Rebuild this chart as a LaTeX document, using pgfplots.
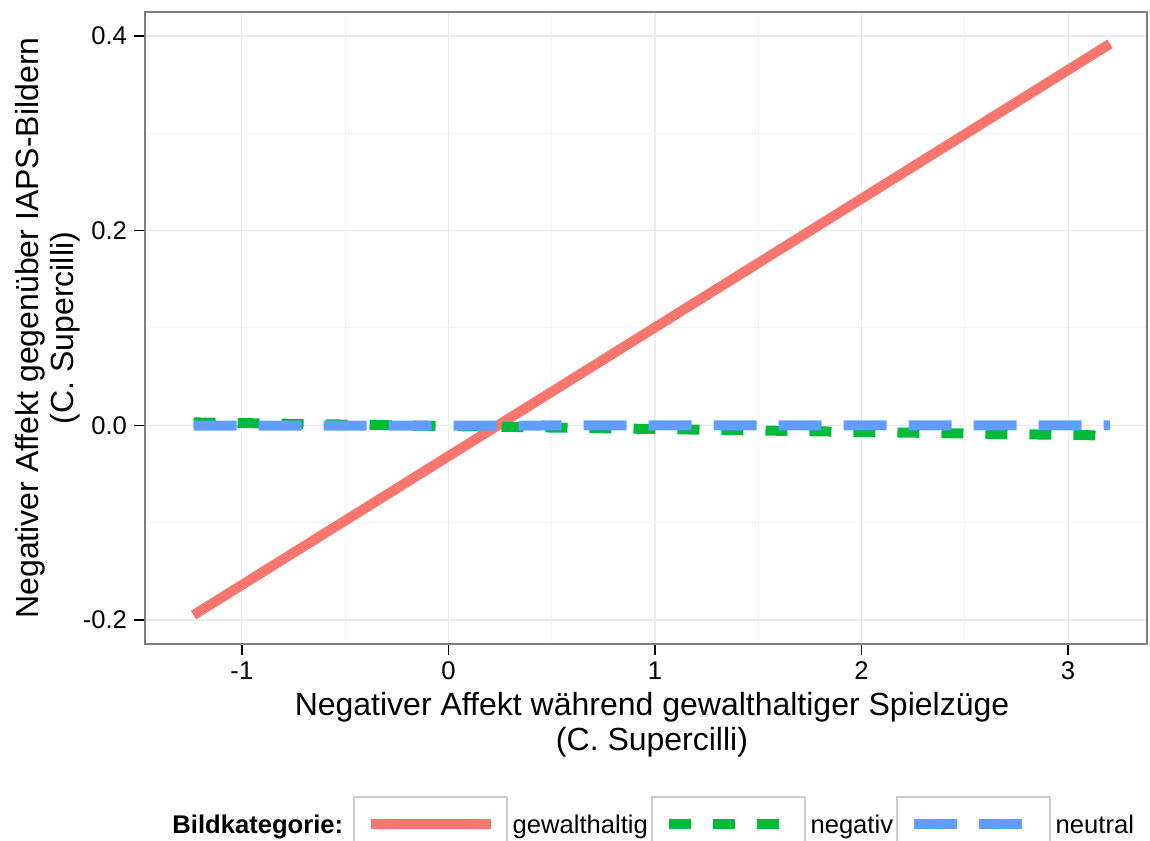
\documentclass[border=0pt]{standalone}
\usepackage{pgfplots}
\pgfplotsset{compat=1.18}
\usepackage{fontspec}
\setmainfont{Liberation Sans}
\definecolor{cRed}{HTML}{F8766D}
\definecolor{cGreen}{HTML}{00BA38}
\definecolor{cBlue}{HTML}{619CFF}
\definecolor{gridMaj}{HTML}{EBEBEB}
\definecolor{gridMin}{HTML}{F5F5F5}
\definecolor{border}{HTML}{7F7F7F}
\definecolor{keyBorder}{HTML}{CCCCCC}
\pgfplotsset{
  keybox/.style={
    legend image code/.code={
      \draw[draw=keyBorder, line width=0.8bp, solid, fill=white] (0bp,-14.5bp) rectangle (76.5bp,14.5bp);
      \draw[##1, line cap=butt] (8.5bp,1bp) -- (68.5bp,1bp);
    }
  }
}
\begin{document}
\begin{tikzpicture}
\begin{axis}[
  at={(0,0)}, anchor=south west,
  scale only axis, width=501bp, height=316bp,
  xmin=-1.469, xmax=3.382, ymin=-0.2247, ymax=0.4247,
  xtick={-1,0,1,2,3}, xticklabels={-1,0,1,2,3},
  ytick={-0.2,0,0.2,0.4}, yticklabels={-0.2,0.0,0.2,0.4},
  minor xtick={-1.5,-0.5,0.5,1.5,2.5},
  minor ytick={-0.1,0.1,0.3},
  grid=both,
  major grid style={gridMaj, line width=0.6bp},
  minor grid style={gridMin, line width=0.5bp},
  minor tick length=0pt,
  major tick length=5.5bp,
  tick align=outside,
  tick pos=left,
  major tick style={black, line width=0.8bp},
  axis line style={border, line width=0.6bp},
  ticklabel style={font=\fontsize{12.8bp}{15bp}\selectfont, text=black},
  xlabel={Negativer Affekt während gewalthaltiger Spielzüge\\(C. Supercilli)},
  ylabel={Negativer Affekt gegenüber IAPS-Bildern\\(C. Supercilli)},
  xlabel style={at={(axis description cs:0.506,-0.127)}, anchor=center, align=center, font=\fontsize{16bp}{17.5bp}\selectfont},
  ylabel style={at={(axis description cs:-0.097,0.5)}, anchor=center, rotate=0, align=center, font=\fontsize{16bp}{17.5bp}\selectfont},
  legend columns=4,
  legend style={at={(axis description cs:0.022,-0.288)}, anchor=west, draw=none, fill=none, inner sep=0pt,
    font=\fontsize{12.8bp}{15bp}\selectfont,
    nodes={inner sep=0pt},
    /tikz/every odd column/.append style={column sep=2.5bp},
    /tikz/every even column/.append style={column sep=1.5bp}},
  keybox,
]
\addlegendimage{empty legend}
\addlegendentry{\textbf{Bildkategorie:}\rule{3.5bp}{0pt}}
\addplot[cRed, line width=5bp, line cap=butt] coordinates {(-1.234,-0.195) (3.203,0.392)};
\addlegendentry{gewalthaltig}
\addplot[cGreen, line width=5bp, line cap=butt, dash pattern=on 11bp off 11bp] coordinates {(-1.234,0.003) (3.203,-0.0105)};
\addlegendentry{negativ}
\addplot[cBlue, line width=5bp, line cap=butt, dash pattern=on 21.5bp off 11bp] coordinates {(-1.234,-0.0003) (3.203,0.0)};
\addlegendentry{neutral}
\end{axis}
\pgfresetboundingbox
\path[use as bounding box] (-72.5bp,-98.5bp) rectangle (502.5bp,322bp);
\end{tikzpicture}
\end{document}
